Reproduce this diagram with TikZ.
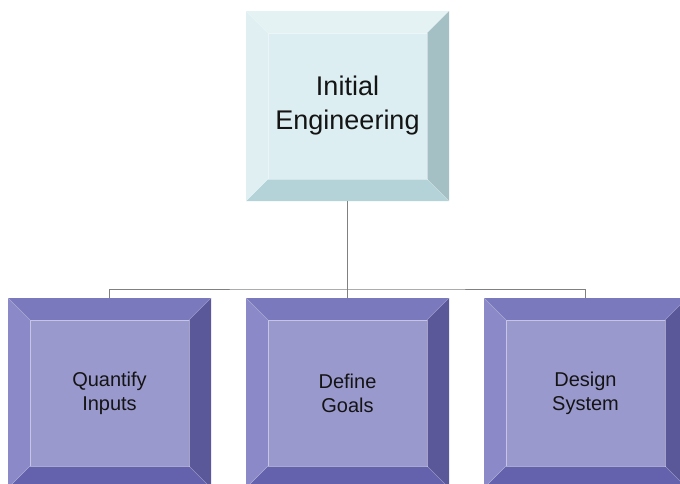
\documentclass[tikz,border=0pt]{standalone}
\usepackage{fontspec}
\setmainfont{Liberation Sans}
\usetikzlibrary{positioning,calc}
\definecolor{iceface}{HTML}{DCEEF1}
\definecolor{icetop}{HTML}{E5F2F4}
\definecolor{iceleft}{HTML}{E0F0F2}
\definecolor{iceright}{HTML}{A4C0C4}
\definecolor{icebottom}{HTML}{B4D3D8}
\definecolor{lilface}{HTML}{9A99CE}
\definecolor{liltop}{HTML}{7B79BD}
\definecolor{lilleft}{HTML}{8B89C7}
\definecolor{lilright}{HTML}{5B589A}
\definecolor{lilbottom}{HTML}{6562AD}
\definecolor{linkgray}{HTML}{808080}

\tikzset{
  bevel colors/.code n args={4}{\def\bvtop{#1}\def\bvleft{#2}\def\bvright{#3}\def\bvbottom{#4}},
  bevelbox/.style={rectangle, minimum width=203pt, minimum height=190pt,
    inner sep=0pt, outer sep=0pt, align=center, text=black!92,
    path picture={
      \path (path picture bounding box.north west) coordinate (bvnw)
            (path picture bounding box.north east) coordinate (bvne)
            (path picture bounding box.south east) coordinate (bvse)
            (path picture bounding box.south west) coordinate (bvsw);
      \path ($(bvnw)+(22pt,-22pt)$) coordinate (bvinw)
            ($(bvne)+(-22pt,-22pt)$) coordinate (bvine)
            ($(bvse)+(-22pt,22pt)$) coordinate (bvise)
            ($(bvsw)+(22pt,22pt)$) coordinate (bvisw);
      \fill[fill=\bvtop] (bvnw) -- (bvne) -- (bvine) -- (bvinw) -- cycle;
      \fill[fill=\bvright] (bvne) -- (bvse) -- (bvise) -- (bvine) -- cycle;
      \fill[fill=\bvbottom] (bvse) -- (bvsw) -- (bvisw) -- (bvise) -- cycle;
      \fill[fill=\bvleft] (bvsw) -- (bvnw) -- (bvinw) -- (bvisw) -- cycle;
      \draw[white, opacity=.3, line width=.6pt] (bvnw) -- (bvinw) (bvne) -- (bvine)
            (bvse) -- (bvise) (bvsw) -- (bvisw);
      \draw[white, opacity=.45, line width=.8pt] (bvinw) rectangle (bvise);
    }},
  headbox/.style={bevelbox, fill=iceface,
    bevel colors={icetop}{iceleft}{iceright}{icebottom},
    font=\fontsize{27}{34}\selectfont},
  taskbox/.style={bevelbox, fill=lilface,
    bevel colors={liltop}{lilleft}{lilright}{lilbottom},
    font=\fontsize{20}{24}\selectfont},
  link/.style={draw=linkgray, line width=1pt}
}

\begin{document}
\begin{tikzpicture}[x=1pt,y=-1pt]
  \useasboundingbox (0,0) rectangle (680,483);

  \node[headbox] (initial) at (347.5,106) {Initial\\Engineering};

  \node[taskbox, below=97pt of initial] (define) {Define\\Goals};
  \node[taskbox, left=35pt of define] (quantify) {Quantify\\Inputs};
  \node[taskbox, right=35pt of define] (design) {Design\\System};

  % tree lines
  \draw[link] (initial.south) -- ++(0,-88pt) coordinate (bus);
  \draw[link] (quantify.north) |- (bus) -| (design.north);
  \draw[link] (bus) -- (define.north);
\end{tikzpicture}
\end{document}
